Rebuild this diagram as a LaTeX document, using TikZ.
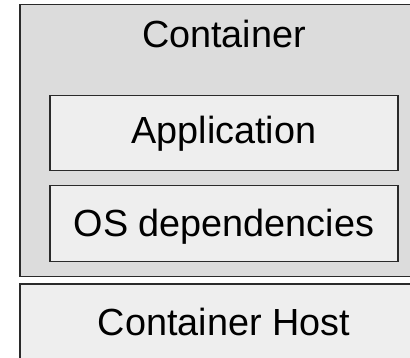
\documentclass[tikz,border=0pt]{standalone}
\usepackage{fontspec}
\setmainfont{Liberation Sans}
\definecolor{contfill}{HTML}{DCDCDC}
\definecolor{boxfill}{HTML}{EEEEEE}
\definecolor{edge}{HTML}{2A2A2A}
\begin{document}
\begin{tikzpicture}[x=1pt,y=-1pt,
  box/.style={draw=edge, line width=1.2pt, inner sep=0pt, outer sep=0pt, anchor=north west},
  lbl/.style={anchor=base, inner sep=0pt, font=\fontsize{37.8}{42}\selectfont}]
\useasboundingbox (0,0) rectangle (410,358);
\clip (0,0) rectangle (410,358);
\fill[white] (0,0) rectangle (410,358);
\node[box, fill=contfill, minimum width=400pt, minimum height=272.2pt] (container) at (20,4.5) {};
\node[box, fill=boxfill, minimum width=348pt, minimum height=75pt] (app) at (50,95.7) {};
\node[box, fill=boxfill, minimum width=348pt, minimum height=76pt] (os) at (50,185.7) {};
\node[box, fill=boxfill, minimum width=400pt, minimum height=90pt] (host) at (20,284) {};
\node[lbl] (ctext) at (224,48) {Container};
\node[lbl] (atext) at (224,143.3) {Application};
\node[lbl] (otext) at (224,236.7) {OS dependencies};
\node[lbl] (htext) at (224,335) {Container Host};
\end{tikzpicture}
\end{document}
